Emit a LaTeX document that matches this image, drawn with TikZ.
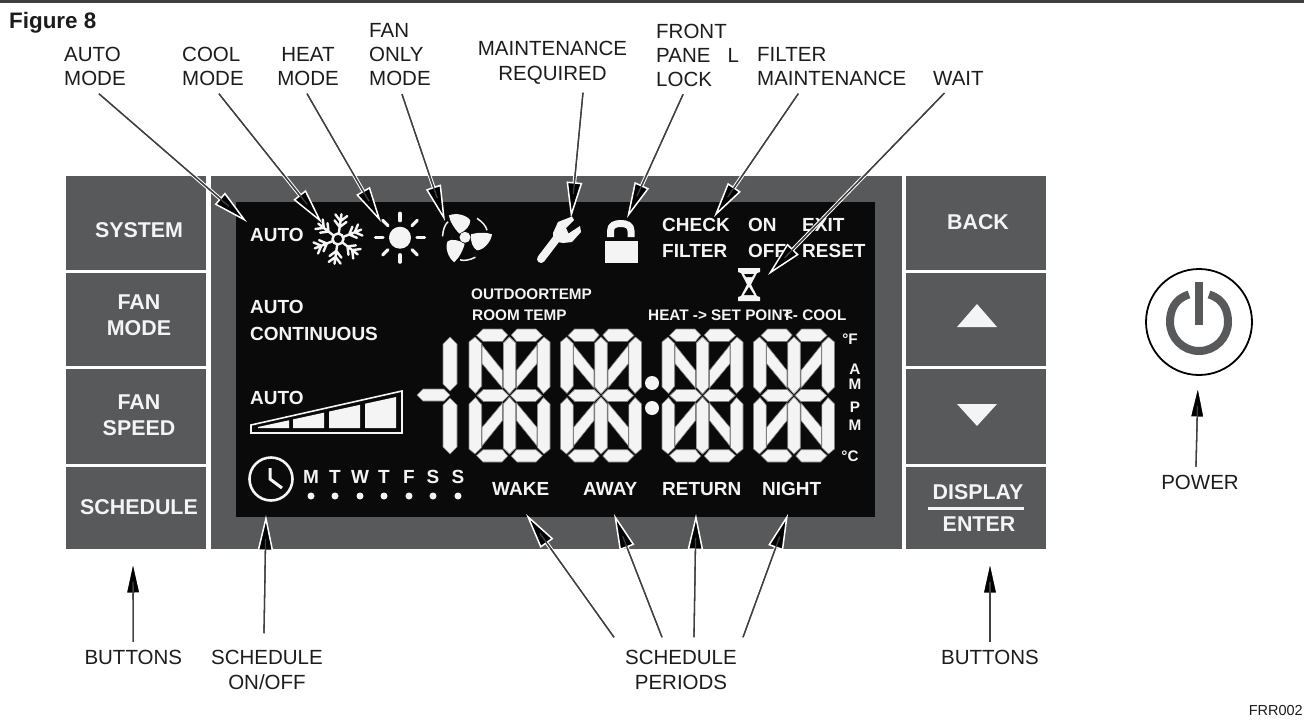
\documentclass[tikz,border=0pt]{standalone}
\usepackage{fontspec}
\setmainfont{Liberation Sans}
\usetikzlibrary{arrows.meta}
\definecolor{padgray}{HTML}{58595B}
\definecolor{lcdblack}{HTML}{0A0A0A}
\definecolor{lcdwhite}{HTML}{F4F4F4}
\definecolor{inktext}{HTML}{1C1C1C}
\tikzset{
  padkey/.style={fill=padgray, inner sep=0pt, minimum width=140pt},
  keytext/.style={text=lcdwhite, inner sep=0pt, align=center, font=\bfseries\fontsize{21.4}{26}\selectfont},
  lcdtext/.style={text=lcdwhite, inner sep=0pt, font=\bfseries\fontsize{19}{22}\selectfont},
  lcdsmall/.style={text=lcdwhite, inner sep=0pt, font=\bfseries\fontsize{15.3}{18}\selectfont},
  tag/.style={text=inktext, inner sep=0pt, outer ysep=8pt, align=left, font=\fontsize{20.5}{24}\selectfont},
  lcdseg/.style={fill=lcdwhite, draw=black!50, line width=.6pt},
  pointer/.style={line width=1.3pt, draw=black!75,
    preaction={draw=white, line width=3.6pt, arrows=-, shorten >=14pt},
    postaction={draw=black!75, arrows=-, shorten >=24pt},
    -{Triangle[length=36pt, width=15.5pt, fill=black, color=white, line width=1.5pt]}},
}
\newcommand{\lcddigit}[1]{
  \foreach \sx/\dx in {1/0,-1/81}
    \foreach \sy/\dy in {1/0,-1/133} {
      \begin{scope}[shift={(#1+\dx,329+\dy)}, xscale=\sx, yscale=\sy]
        \draw[lcdseg] (7.5,6.5) -- (14,0) -- (33,0) -- (38.7,6) -- (33.5,12.3) -- (14,12.3) -- cycle;
        \draw[lcdseg] (8,66.5) -- (14.5,60.5) -- (33.5,60.5) -- (39.5,66.5) -- (33.5,72.5) -- (14.5,72.5) -- cycle;
        \draw[lcdseg] (0,13) -- (6,8) -- (12.7,14.5) -- (12.7,57) -- (6.5,64.5) -- (0,58) -- cycle;
        \draw[lcdseg] (34.3,14) -- (40.5,8) -- (46.7,14) -- (46.7,58) -- (40.5,65) -- (34.3,58) -- cycle;
        \draw[lcdseg] (13,16) -- (33.5,41.5) -- (33.5,59) -- (13,34.5) -- cycle;
      \end{scope}
    }
}
\begin{document}
\begin{tikzpicture}[x=1pt, y=-1pt]
  \useasboundingbox (0,0) rectangle (1304,723);
  \fill[white] (0,0) rectangle (1304,723);
  \fill[black!75] (0,0) rectangle (1304,3);

  \node[anchor=west, text=inktext, inner sep=0pt, font=\bfseries\fontsize{22.4}{26}\selectfont] (figtitle) at (9,23) {Figure 8};
  \node[anchor=east, text=inktext, inner sep=0pt, font=\fontsize{14.5}{17}\selectfont] (frrcode) at (1303,710) {FRR002};

  \node[padkey, minimum height=94pt] (keysystem) at (135.5,223) {};
  \node[padkey, minimum height=93.5pt] (keymode) at (135.5,319.25) {};
  \node[padkey, minimum height=95pt] (keyspeed) at (135.5,416.5) {};
  \node[padkey, minimum height=82pt] (keysched) at (135.5,508) {};
  \node[padkey, minimum height=94pt] (keyback) at (976,223) {};
  \node[padkey, minimum height=93.5pt] (keyup) at (976,319.25) {};
  \node[padkey, minimum height=95pt] (keydown) at (976,416.5) {};
  \node[padkey, minimum height=82pt] (keydisplay) at (976,508) {};
  \fill[padgray] (211,176) rectangle (902,549);
  \fill[lcdblack] (236,202) rectangle (875,517);

  \node[keytext] (systemtext) at (139,230) {SYSTEM};
  \node[keytext] (fanmodetext) at (139,315) {FAN\\MODE};
  \node[keytext] (fanspeedtext) at (139,415.5) {FAN\\SPEED};
  \node[keytext] (schedtext) at (139,507) {SCHEDULE};
  \node[keytext] (backtext) at (978,222) {BACK};
  \node[keytext] (displaytext) at (978,492) {DISPLAY};
  \node[keytext] (entertext) at (979,524) {ENTER};
  \fill[lcdwhite] (928,506.5) rectangle (1024,509.5);
  \fill[lcdwhite] (977,304) -- (997,327) -- (957,327) -- cycle;
  \fill[lcdwhite] (977,426) -- (957,404) -- (997,404) -- cycle;

  \foreach \name/\x/\y/\txt in {autoa/250/235/AUTO, autob/250/306.7/AUTO, continuous/250/334/CONTINUOUS,
    autoc/250/398/AUTO, check/662/225/CHECK, lcdon/748/225/ON, lcdexit/802/225/EXIT,
    lcdfilter/662/251/FILTER, lcdoff/748/251/OFF, lcdreset/802/251/RESET,
    wake/492/489/WAKE, away/583/489/AWAY, return/662/489/RETURN, night/762/489/NIGHT}
    \node[lcdtext, anchor=west] (\name) at (\x,\y) {\txt};
  \node[lcdsmall, anchor=west] (outdoor) at (471,294) {OUTDOORTEMP};
  \node[lcdsmall, anchor=west] (roomtemp) at (472,315) {ROOM TEMP};
  \node[lcdsmall, anchor=west] (setpoint) at (648,315) {HEAT -> SET POINT\kern-8pt<- COOL};
  \foreach \name/\y/\txt in {unita/369/A, unitb/384/M, unitc/407/P, unitd/425/M}
    \node[lcdsmall] (\name) at (855,\y) {\txt};
  \node[lcdsmall] (degf) at (850,339) {°F};
  \node[lcdsmall] (degc) at (850,456) {°C};
  \foreach \name/\x/\txt in {mon/311/M, tue/335/T, wed/360/W, thu/384/T, fri/409/F, sat/433/S, sun/458/S} {
    \node[lcdtext] (\name) at (\x,477) {\txt};
    \fill[lcdwhite] (\x,496) circle[radius=3.5];
  }

  \foreach \a in {258,293,329,365} {
    \fill[lcdwhite] (\a,428) -- (\a,{427-(\a-258)*.2174}) -- ({\a+31},{427-(\a+31-258)*.2174}) -- ({\a+31},428) -- cycle;
  }
  \draw[lcdwhite, line width=1.6pt] (251,425) -- (402,391) -- (402,433) -- (251,433) -- cycle;

  \draw[lcdwhite, line width=2.6pt] (271,479) circle[radius=21.5];
  \draw[lcdwhite, line width=3pt] (270,468) -- (270,479) -- (282,488);

  \draw[lcdwhite, line width=2.4pt] (338,239) circle[radius=5.5];
  \foreach \a in {0,60,...,300} {
    \begin{scope}[shift={(338,239)}, rotate=\a+22]
      \draw[lcdwhite, line width=2.4pt, line cap=round] (5.5,0) -- (25,0) (12,0) -- (18,-6) (12,0) -- (18,6) (18,0) -- (24,-6) (18,0) -- (24,6);
    \end{scope}
  }

  \fill[lcdwhite] (400,237.7) circle[radius=11];
  \foreach \a in {0,45,...,315} {
    \begin{scope}[shift={(400,237.7)}, rotate=\a]
      \draw[lcdwhite, line width=3.2pt, line cap=round] (17,0) -- (24.5,0);
    \end{scope}
  }

  \fill[lcdwhite] (465,237.3) circle[radius=5.5];
  \foreach \a in {0,120,240} {
    \begin{scope}[shift={(465,237.3)}, rotate=\a]
      \fill[lcdwhite] (6,-3) .. controls (13,-5) and (22,-5) .. (27,-3) .. controls (26,5) and (18,13) .. (12,13) .. controls (8,11) and (5,4) .. (6,-3) -- cycle;
      \draw[lcdwhite, line width=1.5pt] (22,-7) .. controls (21,-11) and (18,-15) .. (12,-19);
    \end{scope}
  }

  \draw[lcdwhite, line width=8pt, line cap=round] (541,259) -- (557,238);
  \fill[lcdwhite] (553,233) -- (558,222) -- (572,216.5) -- (574,220) -- (566,228) -- (568.5,233.5) -- (580,226) -- (581,232)
    -- (572,242) -- (563,243) -- (553,241) -- cycle;

  \draw[lcdwhite, line width=7pt] (610.5,237) -- (610.5,231) .. controls (610.5,225.3) and (615,223.5) .. (620.75,223.5)
    .. controls (626.5,223.5) and (631,225.3) .. (631,231) -- (631,237);
  \fill[lcdwhite] (604.5,241) rectangle (637.5,263);

  \fill[lcdwhite] (738,268) -- (760,268) -- (760,272) -- (757,273) -- (751,284.5) -- (757,296) -- (760,297) -- (760,301)
    -- (738,301) -- (738,297) -- (741,296) -- (747,284.5) -- (741,273) -- (738,272) -- cycle;
  \fill[lcdblack] (744,274) -- (754,274) -- (752,277) -- (746,277) -- cycle;
  \fill[lcdblack] (749,287) -- (754,295) -- (744,295) -- cycle;

  \draw[lcdseg] (443,344) -- (450,337) -- (457,344) -- (457,384) -- (450,391) -- (443,384) -- cycle;
  \draw[lcdseg] (443,405) -- (450,398) -- (457,405) -- (457,447) -- (450,454) -- (443,447) -- cycle;
  \draw[lcdseg] (417,395) -- (423,389) -- (444,389) -- (450,395) -- (444,401) -- (423,401) -- cycle;
  \lcddigit{469}
  \lcddigit{560.5}
  \lcddigit{662}
  \lcddigit{753.5}
  \fill[lcdwhite] (652,383) circle[radius=7];
  \fill[lcdwhite] (652,408) circle[radius=7];

  \draw[black, line width=1.8pt] (1199,322) circle[radius=53];
  \draw[padgray, line width=8pt] (1209,294.5) .. controls (1224,299) and (1228,311) .. (1228,322)
    .. controls (1228,338) and (1215,351) .. (1199,351) .. controls (1183,351) and (1170,338) .. (1170,322)
    .. controls (1170,311) and (1174,299) .. (1189,294.5);
  \fill[padgray] (1195,282) rectangle (1202.5,325);

  \node[tag, anchor=west] (automode) at (64,66.5) {AUTO\\MODE};
  \node[tag, anchor=west] (coolmode) at (182,66.5) {COOL\\MODE};
  \node[tag, align=center] (heatmode) at (308,66.5) {HEAT\\MODE};
  \node[tag, anchor=west] (fanmode) at (369,55) {FAN\\ONLY\\MODE};
  \node[tag, align=center] (maintreq) at (552.5,63) {MAINTENANCE\\[1pt]REQUIRED};
  \node[tag, anchor=west] (frontlock) at (656,55) {FRONT\\PANE\ \ \ L\\LOCK};
  \node[tag, anchor=west] (filtermaint) at (757,66.5) {FILTER\\MAINTENANCE};
  \node[tag, anchor=west] (waittag) at (933,78) {WAIT};
  \node[tag] (buttonsl) at (133.3,657) {BUTTONS};
  \node[tag, align=center] (schedonoff) at (267,670) {SCHEDULE\\[1pt]ON/OFF};
  \node[tag, align=center] (schedperiods) at (681,670) {SCHEDULE\\[1pt]PERIODS};
  \node[tag] (buttonsr) at (990,657) {BUTTONS};
  \node[tag] (powertag) at (1200,482) {POWER};

  \coordinate (autotip) at (247,222);
  \coordinate (cooltip) at (322,223);
  \coordinate (heattip) at (381,222);
  \coordinate (fantip) at (445,221);
  \coordinate (mainttip) at (571,218);
  \coordinate (locktip) at (627,218);
  \coordinate (filtertip) at (714,217);
  \coordinate (waittip) at (768,275);
  \coordinate (buttonsltip) at (133,558);
  \coordinate (schedtip) at (266,515);
  \coordinate (waketip) at (526,514);
  \coordinate (awaytip) at (614,514);
  \coordinate (returntip) at (696,514);
  \coordinate (nighttip) at (788,514);
  \coordinate (buttonsrtip) at (990,558);
  \coordinate (powertip) at (1198,382);

  \draw[pointer] ([xshift=4pt]automode.south) -- (autotip);
  \draw[pointer] ([xshift=6pt]coolmode.south) -- (cooltip);
  \draw[pointer] ([xshift=-1pt]heatmode.south) -- (heattip);
  \draw[pointer] ([xshift=2pt]fanmode.south) -- (fantip);
  \draw[pointer] ([xshift=30.5pt]maintreq.south) -- (mainttip);
  \draw[pointer] ([xshift=-14.5pt]frontlock.south) -- (locktip);
  \draw[pointer] ([xshift=-33.5pt]filtermaint.south) -- (filtertip);
  \draw[pointer] ([xshift=-14pt]waittag.south) -- (waittip);
  \draw[pointer] (buttonsl.north) -- (buttonsltip);
  \draw[pointer] ([xshift=-3pt,yshift=9pt]schedonoff.north) -- (schedtip);
  \draw[pointer] ([xshift=-67pt,yshift=5pt]schedperiods.north) -- (waketip);
  \draw[pointer] ([xshift=-19pt,yshift=5pt]schedperiods.north) -- (awaytip);
  \draw[pointer] ([xshift=13pt,yshift=5pt]schedperiods.north) -- (returntip);
  \draw[pointer] ([xshift=62pt,yshift=5pt]schedperiods.north) -- (nighttip);
  \draw[pointer] (buttonsr.north) -- (buttonsrtip);
  \draw[pointer] ([xshift=-4pt]powertag.north) -- (powertip);
\end{tikzpicture}
\end{document}
